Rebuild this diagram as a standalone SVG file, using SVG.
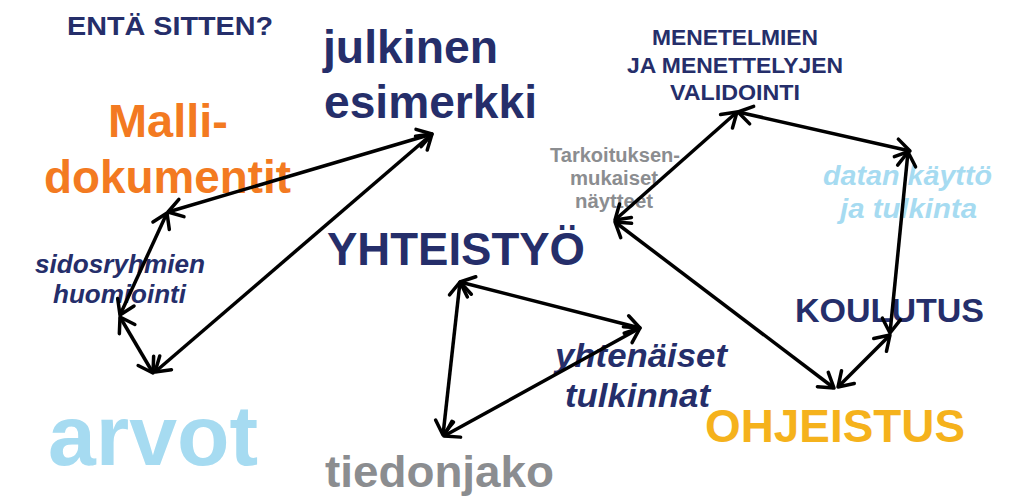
<svg xmlns="http://www.w3.org/2000/svg" width="1024" height="502" viewBox="0 0 1024 502">
<style>
text{font-family:"Liberation Sans",Arial,sans-serif;font-weight:bold}
.navy{fill:#252e6a}
.orange{fill:#f37a21}
.lblue{fill:#a6dbf1}
.gray{fill:#8b8d90}
.gold{fill:#f5b21c}
.it{font-style:italic}
.c line{stroke:#000;stroke-width:3.5;marker-start:url(#ah);marker-end:url(#ah)}
</style>
<defs>
<marker id="ah" viewBox="-18 -13 22 26" refX="0" refY="0" markerWidth="22" markerHeight="26" markerUnits="userSpaceOnUse" orient="auto-start-reverse">
<path d="M-14,-9 L0,0 L-14,9" fill="none" stroke="#000" stroke-width="3.5" stroke-linecap="round" stroke-linejoin="round"/>
</marker>
</defs>
<rect width="1024" height="502" fill="#fff"/>
<g id="title"><text class="navy" x="67" y="35" font-size="25.5" textLength="206" lengthAdjust="spacingAndGlyphs">ENTÄ SITTEN?</text></g>
<g id="julkinen"><text class="navy" font-size="46"><tspan x="323" y="63" textLength="175" lengthAdjust="spacingAndGlyphs">julkinen</tspan><tspan x="324" y="118" textLength="213" lengthAdjust="spacingAndGlyphs">esimerkki</tspan></text></g>
<g id="malli"><text class="orange" font-size="46"><tspan x="108" y="137" textLength="120" lengthAdjust="spacingAndGlyphs">Malli-</tspan><tspan x="44" y="193" textLength="247" lengthAdjust="spacingAndGlyphs">dokumentit</tspan></text></g>
<g id="sidos"><text class="navy it" font-size="26"><tspan x="35" y="273" textLength="170" lengthAdjust="spacingAndGlyphs">sidosryhmien</tspan><tspan x="53" y="303" textLength="133" lengthAdjust="spacingAndGlyphs">huomiointi</tspan></text></g>
<g id="arvot"><text class="lblue" x="48" y="465" font-size="86" textLength="210" lengthAdjust="spacingAndGlyphs">arvot</text></g>
<g id="yhteistyo"><text class="navy" x="327" y="265" font-size="46" textLength="258" lengthAdjust="spacingAndGlyphs">YHTEISTYÖ</text></g>
<g id="tiedonjako"><text class="gray" x="325" y="487" font-size="45" textLength="229" lengthAdjust="spacingAndGlyphs">tiedonjako</text></g>
<g id="yhtenaiset"><text class="navy it" font-size="34"><tspan x="555" y="367" textLength="172" lengthAdjust="spacingAndGlyphs">yhtenäiset</tspan><tspan x="565" y="407" textLength="145" lengthAdjust="spacingAndGlyphs">tulkinnat</tspan></text></g>
<g id="validointi"><text class="navy" font-size="22"><tspan x="652" y="45" textLength="166" lengthAdjust="spacingAndGlyphs">MENETELMIEN</tspan><tspan x="627" y="73" textLength="216" lengthAdjust="spacingAndGlyphs">JA MENETTELYJEN</tspan><tspan x="670" y="100" textLength="130" lengthAdjust="spacingAndGlyphs">VALIDOINTI</tspan></text></g>
<g id="naytteet"><text class="gray" font-size="20"><tspan x="550" y="162" textLength="130" lengthAdjust="spacingAndGlyphs">Tarkoituksen-</tspan><tspan x="570" y="185" textLength="88" lengthAdjust="spacingAndGlyphs">mukaiset</tspan><tspan x="575" y="208" textLength="78" lengthAdjust="spacingAndGlyphs">näytteet</tspan></text></g>
<g id="datan"><text class="lblue it" font-size="28"><tspan x="823" y="185" textLength="169" lengthAdjust="spacingAndGlyphs">datan käyttö</tspan><tspan x="840" y="218" textLength="137" lengthAdjust="spacingAndGlyphs">ja tulkinta</tspan></text></g>
<g id="koulutus"><text class="navy" x="795" y="322" font-size="34" textLength="189" lengthAdjust="spacingAndGlyphs">KOULUTUS</text></g>
<g id="ohjeistus"><text class="gold" x="705" y="442" font-size="46" textLength="260" lengthAdjust="spacingAndGlyphs">OHJEISTUS</text></g>
<g id="connectors" class="c">
<line x1="432" y1="134" x2="168" y2="212"/>
<line x1="167" y1="213" x2="120" y2="315"/>
<line x1="120" y1="317" x2="153" y2="373"/>
<line x1="432" y1="134" x2="155" y2="372"/>
<line x1="460" y1="282" x2="640" y2="328"/>
<line x1="460" y1="282" x2="443" y2="435"/>
<line x1="640" y1="328" x2="444" y2="436"/>
<line x1="737" y1="112" x2="615" y2="220"/>
<line x1="738" y1="112" x2="910" y2="151"/>
<line x1="908" y1="152" x2="890" y2="333"/>
<line x1="890" y1="335" x2="838" y2="387"/>
<line x1="615" y1="222" x2="834" y2="388"/>
</g>
</svg>
